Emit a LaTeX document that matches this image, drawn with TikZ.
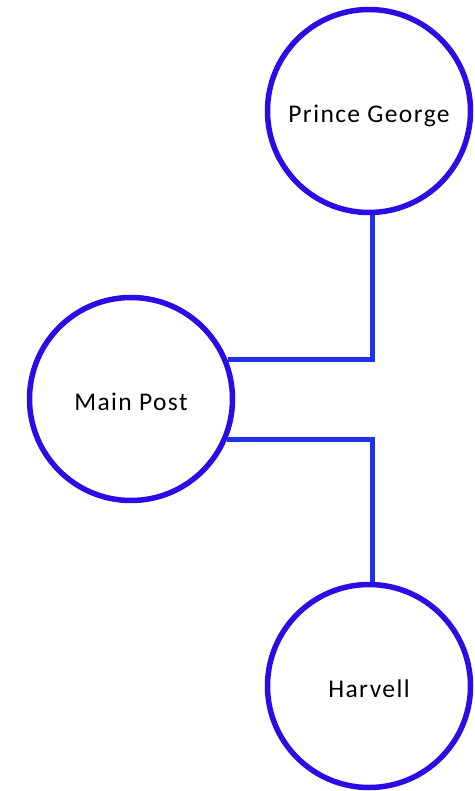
\documentclass[tikz,border=0pt]{standalone}
\usepackage{fontspec}
\setmainfont{Carlito}[LetterSpace=5.5]
\definecolor{ringblue}{HTML}{2A0DE6}
\definecolor{lineblue}{HTML}{1E32EB}
\begin{document}
\begin{tikzpicture}[x=1pt,y=-1pt,
  site/.style={circle,draw=ringblue,line width=5.5pt,minimum size=203pt,inner sep=0pt,fill=white,
    font=\fontsize{25.5}{30}\selectfont,text=black,text height=23pt,text depth=0pt},
  conn/.style={draw=lineblue,line width=5pt}]
\useasboundingbox (0,0) rectangle (474,791);
\node[site] (PG) at (369,111) {Prince George};
\node[site] (MP) at (131,399) {Main Post};
\node[site] (HV) at (369,686) {Harvell};
\draw[conn] (MP.22.6) -| ([xshift=3pt]PG.south);
\draw[conn] (MP.-23.8) -| ([xshift=3pt]HV.north);
\end{tikzpicture}
\end{document}
